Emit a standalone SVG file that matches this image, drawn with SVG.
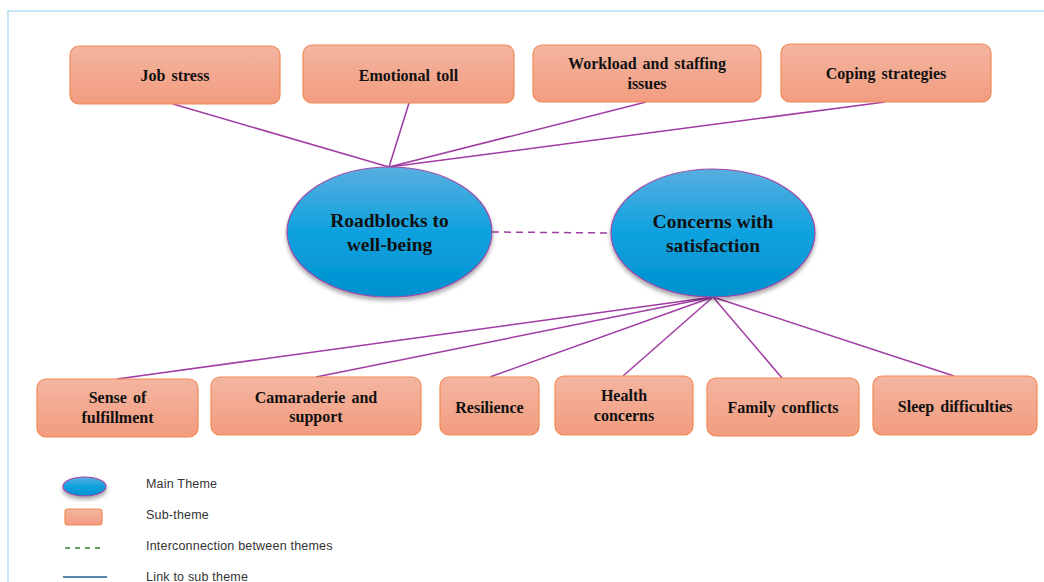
<svg xmlns="http://www.w3.org/2000/svg" width="1044" height="582" viewBox="0 0 1044 582">
<defs>
<linearGradient id="boxG" x1="0" y1="0" x2="0" y2="1">
<stop offset="0" stop-color="#f4b5a0"/>
<stop offset="1" stop-color="#f29c7f"/>
</linearGradient>
<linearGradient id="ellG" x1="0" y1="0" x2="0" y2="1">
<stop offset="0" stop-color="#58aee0"/>
<stop offset="0.5" stop-color="#0ea2df"/>
<stop offset="1" stop-color="#0090cf"/>
</linearGradient>
<filter id="sh" x="-20%" y="-20%" width="140%" height="150%">
<feGaussianBlur in="SourceAlpha" stdDeviation="2"/>
<feOffset dx="0" dy="3" result="b"/>
<feComponentTransfer><feFuncA type="linear" slope="0.35"/></feComponentTransfer>
<feMerge><feMergeNode/><feMergeNode in="SourceGraphic"/></feMerge>
</filter>
</defs>
<style>
.box{fill:url(#boxG);stroke:#ef8a55;stroke-width:1.2}
.ell{fill:url(#ellG);stroke:#a04aa8;stroke-width:1.2}
.bt{font-family:"Liberation Serif","Times New Roman",serif;font-weight:bold;font-size:16px;fill:#111;text-anchor:middle;word-spacing:2px}
.et{font-family:"Liberation Serif","Times New Roman",serif;font-weight:bold;font-size:19.5px;fill:#111;text-anchor:middle}
.ln{stroke:#a03ca3;stroke-width:1.5;fill:none}
.lg{font-family:"Liberation Sans",Arial,sans-serif;font-size:12.5px;fill:#333;letter-spacing:0.2px}
</style>
<rect x="0" y="0" width="1044" height="582" fill="#ffffff"/>
<path d="M8,582 V11 H1044" fill="none" stroke="#c8e6f5" stroke-width="2"/>

<g id="connectors">
<line class="ln" x1="173" y1="104" x2="389" y2="167"/>
<line class="ln" x1="409" y1="103" x2="389" y2="167"/>
<line class="ln" x1="646" y1="102" x2="389" y2="167"/>
<line class="ln" x1="885" y1="102" x2="389" y2="167"/>
<line class="ln" x1="492" y1="232" x2="611" y2="233" stroke-dasharray="7,5"/>
<line class="ln" x1="713" y1="297" x2="117" y2="379"/>
<line class="ln" x1="713" y1="297" x2="316" y2="377"/>
<line class="ln" x1="713" y1="297" x2="490" y2="377"/>
<line class="ln" x1="713" y1="297" x2="623" y2="376"/>
<line class="ln" x1="713" y1="297" x2="782" y2="378"/>
<line class="ln" x1="713" y1="297" x2="954" y2="376"/>
</g>

<g id="job-stress"><rect class="box" x="70" y="46" width="210" height="58" rx="9"/><text class="bt" x="175" y="81">Job stress</text></g>
<g id="emotional-toll"><rect class="box" x="303" y="45" width="211" height="58" rx="9"/><text class="bt" x="408.5" y="81">Emotional toll</text></g>
<g id="workload"><rect class="box" x="533" y="45" width="228" height="57" rx="9"/><text class="bt" x="647" y="69">Workload and staffing</text><text class="bt" x="647" y="89">issues</text></g>
<g id="coping"><rect class="box" x="781" y="44" width="210" height="58" rx="9"/><text class="bt" x="886" y="79">Coping strategies</text></g>

<g id="roadblocks"><ellipse class="ell" cx="389.5" cy="232" rx="102.5" ry="65" filter="url(#sh)"/><text class="et" x="389.5" y="227">Roadblocks to</text><text class="et" x="389.5" y="251">well-being</text></g>
<g id="concerns"><ellipse class="ell" cx="713" cy="233" rx="102" ry="64" filter="url(#sh)"/><text class="et" x="713" y="228">Concerns with</text><text class="et" x="713" y="252">satisfaction</text></g>

<g id="sense"><rect class="box" x="37" y="379" width="161" height="58" rx="9"/><text class="bt" x="117.5" y="403">Sense of</text><text class="bt" x="117.5" y="423">fulfillment</text></g>
<g id="camaraderie"><rect class="box" x="211" y="377" width="210" height="58" rx="9"/><text class="bt" x="316" y="403">Camaraderie and</text><text class="bt" x="316" y="422">support</text></g>
<g id="resilience"><rect class="box" x="440" y="377" width="99" height="58" rx="9"/><text class="bt" x="489.5" y="413">Resilience</text></g>
<g id="health"><rect class="box" x="555" y="376" width="138" height="59" rx="9"/><text class="bt" x="624" y="401">Health</text><text class="bt" x="624" y="421">concerns</text></g>
<g id="family"><rect class="box" x="707" y="378" width="152" height="58" rx="9"/><text class="bt" x="783" y="413">Family conflicts</text></g>
<g id="sleep"><rect class="box" x="873" y="376" width="164" height="59" rx="9"/><text class="bt" x="955" y="412">Sleep difficulties</text></g>

<g id="legend">
<ellipse class="ell" cx="84.5" cy="486.5" rx="21.5" ry="9.5" filter="url(#sh)"/>
<rect class="box" x="65" y="509" width="37" height="16" rx="3"/>
<line x1="65" y1="548" x2="103" y2="548" stroke="#2e7d32" stroke-width="1.5" stroke-dasharray="5,5"/>
<line x1="63" y1="577" x2="107" y2="577" stroke="#1f5f8b" stroke-width="1.5"/>
<text class="lg" x="146" y="488">Main Theme</text>
<text class="lg" x="146" y="519">Sub-theme</text>
<text class="lg" x="146" y="550">Interconnection between themes</text>
<text class="lg" x="146" y="581">Link to sub theme</text>
</g>
</svg>
